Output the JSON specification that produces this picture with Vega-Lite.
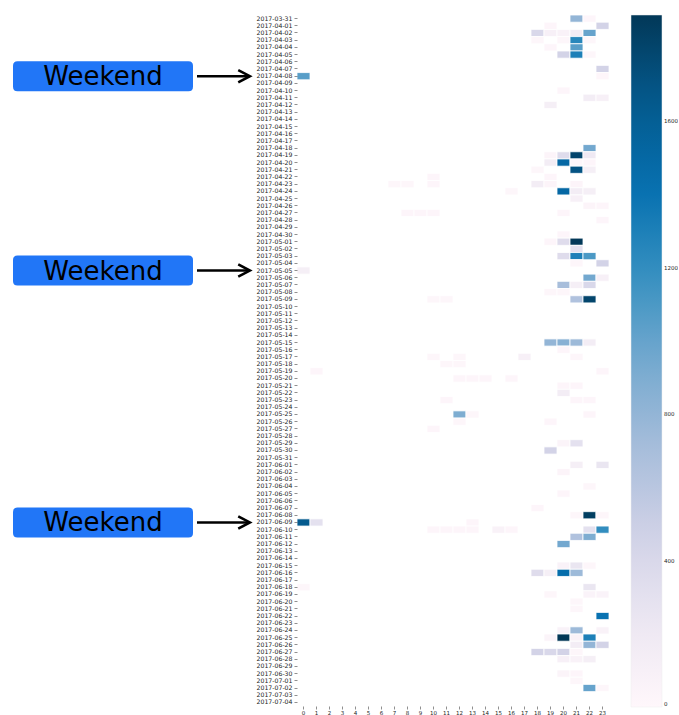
{
  "$schema": "https://vega.github.io/schema/vega-lite/v6.json",
  "padding": {"left": 0, "top": 14, "right": 0, "bottom": 0},
  "background": "white",
  "config": {"view": {"stroke": null}, "font": "DejaVu Sans"},
  "resolve": {"scale": {"x": "independent", "y": "shared"}},
  "spacing": 0,
  "hconcat": [
    {
      "width": 250,
      "height": 691,
      "data": {"values": [
        {"date": "2017-04-08", "label": "Weekend"},
        {"date": "2017-05-05", "label": "Weekend"},
        {"date": "2017-06-09", "label": "Weekend"}
      ]},
      "encoding": {
        "y": {"field": "date", "type": "ordinal", "axis": null,
          "scale": {"domain": ["2017-03-31","2017-04-01","2017-04-02","2017-04-03","2017-04-04","2017-04-05","2017-04-06","2017-04-07","2017-04-08","2017-04-09","2017-04-10","2017-04-11","2017-04-12","2017-04-13","2017-04-14","2017-04-15","2017-04-16","2017-04-17","2017-04-18","2017-04-19","2017-04-20","2017-04-21","2017-04-22","2017-04-23","2017-04-24","2017-04-25","2017-04-26","2017-04-27","2017-04-28","2017-04-29","2017-04-30","2017-05-01","2017-05-02","2017-05-03","2017-05-04","2017-05-05","2017-05-06","2017-05-07","2017-05-08","2017-05-09","2017-05-10","2017-05-11","2017-05-12","2017-05-13","2017-05-14","2017-05-15","2017-05-16","2017-05-17","2017-05-18","2017-05-19","2017-05-20","2017-05-21","2017-05-22","2017-05-23","2017-05-24","2017-05-25","2017-05-26","2017-05-27","2017-05-28","2017-05-29","2017-05-30","2017-05-31","2017-06-01","2017-06-02","2017-06-03","2017-06-04","2017-06-05","2017-06-06","2017-06-07","2017-06-08","2017-06-09","2017-06-10","2017-06-11","2017-06-12","2017-06-13","2017-06-14","2017-06-15","2017-06-16","2017-06-17","2017-06-18","2017-06-19","2017-06-20","2017-06-21","2017-06-22","2017-06-23","2017-06-24","2017-06-25","2017-06-26","2017-06-27","2017-06-28","2017-06-29","2017-06-30","2017-07-01","2017-07-02","2017-07-03","2017-07-04"], "paddingInner": 0, "paddingOuter": 0}}
      },
      "layer": [
        {
          "mark": {"type": "point", "filled": true, "opacity": 1, "color": "#2176f7", "strokeWidth": 0, "size": 32400,
            "shape": "M -0.95,-0.1667 L 0.95,-0.1667 Q 1,-0.1667 1,-0.1167 L 1,0.1167 Q 1,0.1667 0.95,0.1667 L -0.95,0.1667 Q -1,0.1667 -1,0.1167 L -1,-0.1167 Q -1,-0.1667 -0.95,-0.1667 Z"},
          "encoding": {"x": {"datum": 0.412, "type": "quantitative", "scale": {"domain": [0, 1]}, "axis": null}}
        },
        {
          "mark": {"type": "text", "fontSize": 26, "color": "black", "align": "center", "baseline": "middle", "dy": 1},
          "encoding": {"x": {"datum": 0.412, "type": "quantitative"}, "text": {"field": "label"}}
        },
        {
          "mark": {"type": "rule", "strokeWidth": 2.6, "color": "black"},
          "encoding": {"x": {"datum": 0.788, "type": "quantitative"}, "x2": {"datum": 0.995}}
        },
        {
          "mark": {"type": "point", "filled": false, "opacity": 1, "stroke": "black", "strokeWidth": 2.6, "size": 150, "shape": "M -0.9,-1 L 1,0 L -0.9,1"},
          "encoding": {"x": {"datum": 0.975, "type": "quantitative"}}
        }
      ]
    },
    {
      "width": 312,
      "height": 691,
      "data": {"values": [
        {"date":"2017-03-31","hour":21,"count":800},{"date":"2017-03-31","hour":22,"count":30},
        {"date":"2017-04-01","hour":19,"count":30},{"date":"2017-04-01","hour":23,"count":450},
        {"date":"2017-04-02","hour":18,"count":400},{"date":"2017-04-02","hour":19,"count":100},{"date":"2017-04-02","hour":20,"count":80},{"date":"2017-04-02","hour":21,"count":150},{"date":"2017-04-02","hour":22,"count":1000},
        {"date":"2017-04-03","hour":18,"count":20},{"date":"2017-04-03","hour":20,"count":20},{"date":"2017-04-03","hour":21,"count":1250},{"date":"2017-04-03","hour":22,"count":20},
        {"date":"2017-04-04","hour":19,"count":30},{"date":"2017-04-04","hour":21,"count":1050},
        {"date":"2017-04-05","hour":20,"count":450},{"date":"2017-04-05","hour":21,"count":1300},{"date":"2017-04-05","hour":22,"count":20},
        {"date":"2017-04-07","hour":23,"count":450},
        {"date":"2017-04-08","hour":0,"count":1050},{"date":"2017-04-08","hour":23,"count":15},
        {"date":"2017-04-10","hour":20,"count":30},
        {"date":"2017-04-11","hour":22,"count":150},{"date":"2017-04-11","hour":23,"count":100},
        {"date":"2017-04-12","hour":19,"count":120},
        {"date":"2017-04-18","hour":22,"count":950},
        {"date":"2017-04-19","hour":19,"count":40},{"date":"2017-04-19","hour":20,"count":350},{"date":"2017-04-19","hour":21,"count":1800},{"date":"2017-04-19","hour":22,"count":200},
        {"date":"2017-04-20","hour":19,"count":150},{"date":"2017-04-20","hour":20,"count":1500},{"date":"2017-04-20","hour":21,"count":20},{"date":"2017-04-20","hour":22,"count":30},
        {"date":"2017-04-21","hour":18,"count":20},{"date":"2017-04-21","hour":21,"count":1700},{"date":"2017-04-21","hour":22,"count":120},
        {"date":"2017-04-22","hour":10,"count":30},{"date":"2017-04-22","hour":19,"count":30},
        {"date":"2017-04-23","hour":7,"count":20},{"date":"2017-04-23","hour":8,"count":20},{"date":"2017-04-23","hour":10,"count":30},{"date":"2017-04-23","hour":18,"count":150},{"date":"2017-04-23","hour":19,"count":40},{"date":"2017-04-23","hour":21,"count":40},
        {"date":"2017-04-24","hour":16,"count":20},{"date":"2017-04-24","hour":20,"count":1500},{"date":"2017-04-24","hour":21,"count":150},{"date":"2017-04-24","hour":22,"count":120},
        {"date":"2017-04-25","hour":21,"count":100},
        {"date":"2017-04-26","hour":22,"count":40},{"date":"2017-04-26","hour":23,"count":30},
        {"date":"2017-04-27","hour":8,"count":30},{"date":"2017-04-27","hour":9,"count":30},{"date":"2017-04-27","hour":10,"count":30},{"date":"2017-04-27","hour":20,"count":30},
        {"date":"2017-04-28","hour":23,"count":30},
        {"date":"2017-04-30","hour":20,"count":30},
        {"date":"2017-05-01","hour":19,"count":30},{"date":"2017-05-01","hour":20,"count":350},{"date":"2017-05-01","hour":21,"count":1890},
        {"date":"2017-05-02","hour":21,"count":300},
        {"date":"2017-05-03","hour":20,"count":350},{"date":"2017-05-03","hour":21,"count":1300},{"date":"2017-05-03","hour":22,"count":1100},
        {"date":"2017-05-04","hour":21,"count":20},{"date":"2017-05-04","hour":23,"count":450},
        {"date":"2017-05-05","hour":0,"count":120},
        {"date":"2017-05-06","hour":22,"count":950},{"date":"2017-05-06","hour":23,"count":100},
        {"date":"2017-05-07","hour":20,"count":700},{"date":"2017-05-07","hour":21,"count":120},{"date":"2017-05-07","hour":22,"count":400},
        {"date":"2017-05-08","hour":19,"count":20},{"date":"2017-05-08","hour":20,"count":20},
        {"date":"2017-05-09","hour":10,"count":20},{"date":"2017-05-09","hour":11,"count":20},{"date":"2017-05-09","hour":21,"count":650},{"date":"2017-05-09","hour":22,"count":1800},
        {"date":"2017-05-15","hour":19,"count":800},{"date":"2017-05-15","hour":20,"count":850},{"date":"2017-05-15","hour":21,"count":750},{"date":"2017-05-15","hour":22,"count":150},
        {"date":"2017-05-16","hour":20,"count":30},
        {"date":"2017-05-17","hour":10,"count":20},{"date":"2017-05-17","hour":12,"count":20},{"date":"2017-05-17","hour":17,"count":100},{"date":"2017-05-17","hour":21,"count":20},
        {"date":"2017-05-18","hour":11,"count":20},{"date":"2017-05-18","hour":12,"count":20},
        {"date":"2017-05-19","hour":1,"count":25},{"date":"2017-05-19","hour":23,"count":25},
        {"date":"2017-05-20","hour":12,"count":30},{"date":"2017-05-20","hour":13,"count":30},{"date":"2017-05-20","hour":14,"count":30},{"date":"2017-05-20","hour":16,"count":30},
        {"date":"2017-05-21","hour":20,"count":30},{"date":"2017-05-21","hour":21,"count":30},
        {"date":"2017-05-22","hour":20,"count":150},
        {"date":"2017-05-23","hour":11,"count":25},{"date":"2017-05-23","hour":21,"count":30},{"date":"2017-05-23","hour":22,"count":30},
        {"date":"2017-05-25","hour":12,"count":900},{"date":"2017-05-25","hour":13,"count":20},{"date":"2017-05-25","hour":22,"count":30},
        {"date":"2017-05-26","hour":12,"count":20},{"date":"2017-05-26","hour":19,"count":30},
        {"date":"2017-05-27","hour":10,"count":30},
        {"date":"2017-05-29","hour":20,"count":50},{"date":"2017-05-29","hour":21,"count":300},
        {"date":"2017-05-30","hour":19,"count":450},
        {"date":"2017-06-01","hour":21,"count":120},{"date":"2017-06-01","hour":23,"count":250},
        {"date":"2017-06-02","hour":20,"count":40},
        {"date":"2017-06-04","hour":22,"count":20},
        {"date":"2017-06-05","hour":20,"count":30},
        {"date":"2017-06-07","hour":18,"count":30},
        {"date":"2017-06-08","hour":21,"count":20},{"date":"2017-06-08","hour":22,"count":1850},{"date":"2017-06-08","hour":23,"count":20},
        {"date":"2017-06-09","hour":0,"count":1650},{"date":"2017-06-09","hour":1,"count":300},{"date":"2017-06-09","hour":13,"count":30},
        {"date":"2017-06-10","hour":10,"count":30},{"date":"2017-06-10","hour":11,"count":30},{"date":"2017-06-10","hour":12,"count":30},{"date":"2017-06-10","hour":13,"count":30},{"date":"2017-06-10","hour":15,"count":80},{"date":"2017-06-10","hour":16,"count":30},{"date":"2017-06-10","hour":22,"count":300},{"date":"2017-06-10","hour":23,"count":1200},
        {"date":"2017-06-11","hour":21,"count":650},{"date":"2017-06-11","hour":22,"count":900},
        {"date":"2017-06-12","hour":20,"count":950},
        {"date":"2017-06-15","hour":20,"count":80},{"date":"2017-06-15","hour":21,"count":250},{"date":"2017-06-15","hour":22,"count":20},
        {"date":"2017-06-16","hour":18,"count":350},{"date":"2017-06-16","hour":19,"count":120},{"date":"2017-06-16","hour":20,"count":1450},{"date":"2017-06-16","hour":21,"count":750},
        {"date":"2017-06-18","hour":0,"count":20},{"date":"2017-06-18","hour":22,"count":250},
        {"date":"2017-06-19","hour":19,"count":20},{"date":"2017-06-19","hour":22,"count":60},{"date":"2017-06-19","hour":23,"count":60},
        {"date":"2017-06-20","hour":21,"count":20},
        {"date":"2017-06-21","hour":21,"count":20},
        {"date":"2017-06-22","hour":23,"count":1400},
        {"date":"2017-06-24","hour":20,"count":80},{"date":"2017-06-24","hour":21,"count":750},{"date":"2017-06-24","hour":23,"count":80},
        {"date":"2017-06-25","hour":19,"count":50},{"date":"2017-06-25","hour":20,"count":1900},{"date":"2017-06-25","hour":21,"count":80},{"date":"2017-06-25","hour":22,"count":1300},
        {"date":"2017-06-26","hour":21,"count":150},{"date":"2017-06-26","hour":22,"count":800},{"date":"2017-06-26","hour":23,"count":450},
        {"date":"2017-06-27","hour":18,"count":450},{"date":"2017-06-27","hour":19,"count":400},{"date":"2017-06-27","hour":20,"count":450},{"date":"2017-06-27","hour":21,"count":20},
        {"date":"2017-06-28","hour":20,"count":100},{"date":"2017-06-28","hour":21,"count":70},{"date":"2017-06-28","hour":22,"count":120},
        {"date":"2017-06-30","hour":20,"count":50},{"date":"2017-06-30","hour":21,"count":30},
        {"date":"2017-07-01","hour":21,"count":20},
        {"date":"2017-07-02","hour":22,"count":1000},{"date":"2017-07-02","hour":23,"count":20}
      ]},
      "mark": {"type": "rect", "stroke": "white", "strokeWidth": 0.8},
      "encoding": {
        "x": {"field": "hour", "type": "ordinal",
          "scale": {"domain": [0,1,2,3,4,5,6,7,8,9,10,11,12,13,14,15,16,17,18,19,20,21,22,23], "paddingInner": 0, "paddingOuter": 0},
          "axis": {"title": null, "labelAngle": 0, "labelFontSize": 5.5, "labelColor": "#222", "domain": false, "tickSize": 3, "tickColor": "#444", "tickWidth": 0.6, "labelPadding": 1}},
        "y": {"field": "date", "type": "ordinal",
          "axis": {"title": null, "labelFontSize": 6.2, "labelColor": "#222", "domain": false, "tickSize": 3, "tickColor": "#444", "tickWidth": 0.6, "labelPadding": 2}},
        "color": {"field": "count", "type": "quantitative",
          "scale": {"type": "linear", "interpolate": "rgb",
            "domain": [0, 236.25, 472.5, 708.75, 945, 1181.25, 1417.5, 1653.75, 1890],
            "range": ["#fff7fb", "#ece7f2", "#d0d1e6", "#a6bddb", "#74a9cf", "#3690c0", "#0570b0", "#045a8d", "#023858"]},
          "legend": {"title": null, "gradientLength": 692, "gradientThickness": 31, "offset": 21, "labelFontSize": 5.5, "labelColor": "#222", "values": [0, 400, 800, 1200, 1600], "format": "d", "gradientStrokeColor": "#eee", "gradientStrokeWidth": 0.5, "labelOffset": 2}}
      }
    }
  ]
}
